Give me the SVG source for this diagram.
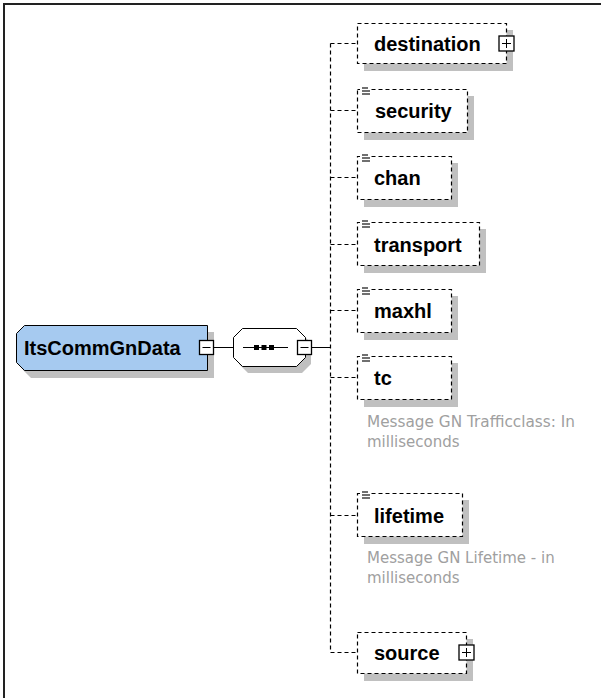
<svg xmlns="http://www.w3.org/2000/svg" width="601" height="698" viewBox="0 0 601 698">
<style>
.frame{fill:none;stroke:#222;stroke-width:2}
.shadow{fill:#c0c0c0;stroke:none}
.el{fill:#fff;stroke:#000;stroke-width:1.2;stroke-dasharray:4 3}
.lbl{font-family:"Liberation Sans",Arial,sans-serif;font-weight:bold;font-size:20px;fill:#000}
.cmt{font-family:"DejaVu Sans",Tahoma,sans-serif;font-size:15px;fill:#a0a0a0}
.conn{fill:none;stroke:#000;stroke-width:1}
.dash{fill:none;stroke:#000;stroke-width:1.2;stroke-dasharray:4 3}
.btn{fill:#fff;stroke:#000;stroke-width:1.3}
.icon{stroke:#333;stroke-width:1.4}
</style>
<defs>
<g id="ico">
<rect x="-1" y="-1" width="11" height="9" fill="#fff"/>
<line class="icon" x1="1" y1="1" x2="7" y2="1"/>
<line class="icon" x1="1" y1="4" x2="9" y2="4"/>
<line class="icon" x1="1" y1="7" x2="9" y2="7"/>
</g>
</defs>
<rect class="frame" x="4" y="4" width="700" height="800"/>

<g id="connectors">
<line class="conn" x1="212" y1="347.5" x2="233" y2="347.5"/>
<line class="conn" x1="311" y1="347.5" x2="330.5" y2="347.5"/>
<line class="dash" x1="330.5" y1="43.5" x2="330.5" y2="652.5"/>
<line class="dash" x1="330.5" y1="43.5" x2="357.5" y2="43.5"/>
<line class="dash" x1="330.5" y1="110.5" x2="357.5" y2="110.5"/>
<line class="dash" x1="330.5" y1="177.5" x2="357.5" y2="177.5"/>
<line class="dash" x1="330.5" y1="244.5" x2="357.5" y2="244.5"/>
<line class="dash" x1="330.5" y1="310.5" x2="357.5" y2="310.5"/>
<line class="dash" x1="330.5" y1="377.5" x2="357.5" y2="377.5"/>
<line class="dash" x1="330.5" y1="515.5" x2="357.5" y2="515.5"/>
<line class="dash" x1="330.5" y1="652.5" x2="357.5" y2="652.5"/>
</g>

<g id="ItsCommGnData">
<polygon class="shadow" points="31,332 214,332 214,378 31,378 23,370 23,340"/>
<polygon points="24.5,325.5 207.5,325.5 207.5,370.5 24.5,370.5 16.5,362.5 16.5,333.5" fill="#a6caf0" stroke="#000" stroke-width="1"/>
<text class="lbl" x="24" y="355">ItsCommGnData</text>
<rect class="btn" x="199.5" y="340.5" width="14" height="14"/>
<line class="conn" x1="202.5" y1="347.5" x2="210.5" y2="347.5"/>
</g>

<g id="sequence">
<polygon class="shadow" points="248,334 302,334 311,343 311,364 302,373 248,373 239,364 239,343"/>
<polygon points="242.5,328.5 296.5,328.5 305.5,337.5 305.5,357.5 296.5,366.5 242.5,366.5 233.5,357.5 233.5,337.5" fill="#fff" stroke="#000" stroke-width="1"/>
<line class="conn" x1="243" y1="347.5" x2="288" y2="347.5"/>
<rect x="254" y="345" width="5" height="5" fill="#000"/>
<rect x="261.5" y="345" width="5" height="5" fill="#000"/>
<rect x="269" y="345" width="5" height="5" fill="#000"/>
<rect class="btn" x="297.5" y="340.5" width="14" height="14"/>
<line class="conn" x1="300.5" y1="347.5" x2="308.5" y2="347.5"/>
</g>

<g id="destination">
<rect class="shadow" x="364" y="30" width="149" height="41"/>
<rect class="el" x="357.5" y="23.5" width="149" height="40"/>
<text class="lbl" x="374" y="50.5">destination</text>
<rect class="btn" x="499" y="36" width="15" height="15"/>
<line class="conn" x1="502" y1="43.5" x2="511" y2="43.5"/>
<line class="conn" x1="506.5" y1="39" x2="506.5" y2="48"/>
</g>

<g id="security">
<rect class="shadow" x="364" y="96" width="110" height="44"/>
<rect class="el" x="357.5" y="89.5" width="110" height="43"/>
<use href="#ico" x="361" y="87"/>
<text class="lbl" x="375" y="118">security</text>
</g>

<g id="chan">
<rect class="shadow" x="364" y="163" width="94" height="44"/>
<rect class="el" x="357.5" y="156.5" width="94" height="43"/>
<use href="#ico" x="361" y="154"/>
<text class="lbl" x="374" y="185">chan</text>
</g>

<g id="transport">
<rect class="shadow" x="364" y="229" width="122" height="44"/>
<rect class="el" x="357.5" y="222.5" width="122" height="43"/>
<use href="#ico" x="361" y="220"/>
<text class="lbl" x="374" y="251.5">transport</text>
</g>

<g id="maxhl">
<rect class="shadow" x="364" y="296" width="94" height="44"/>
<rect class="el" x="357.5" y="289.5" width="94" height="43"/>
<use href="#ico" x="361" y="287"/>
<text class="lbl" x="374" y="318">maxhl</text>
</g>

<g id="tc">
<rect class="shadow" x="364" y="363" width="94" height="44"/>
<rect class="el" x="357.5" y="356.5" width="94" height="43"/>
<use href="#ico" x="361" y="354"/>
<text class="lbl" x="374" y="385">tc</text>
<text class="cmt" x="367" y="427" textLength="208" lengthAdjust="spacingAndGlyphs">Message GN Trafficclass: In</text>
<text class="cmt" x="367" y="447">milliseconds</text>
</g>

<g id="lifetime">
<rect class="shadow" x="364" y="500" width="105" height="44"/>
<rect class="el" x="357.5" y="493.5" width="105" height="43"/>
<use href="#ico" x="361" y="491"/>
<text class="lbl" x="374" y="522.5">lifetime</text>
<text class="cmt" x="367" y="563">Message GN Lifetime - in</text>
<text class="cmt" x="367" y="583">milliseconds</text>
</g>

<g id="source">
<rect class="shadow" x="364" y="639" width="109" height="42"/>
<rect class="el" x="357.5" y="632.5" width="109" height="41"/>
<text class="lbl" x="374" y="660">source</text>
<rect class="btn" x="459" y="645" width="15" height="15"/>
<line class="conn" x1="462" y1="652.5" x2="471" y2="652.5"/>
<line class="conn" x1="466.5" y1="648" x2="466.5" y2="657"/>
</g>
</svg>
